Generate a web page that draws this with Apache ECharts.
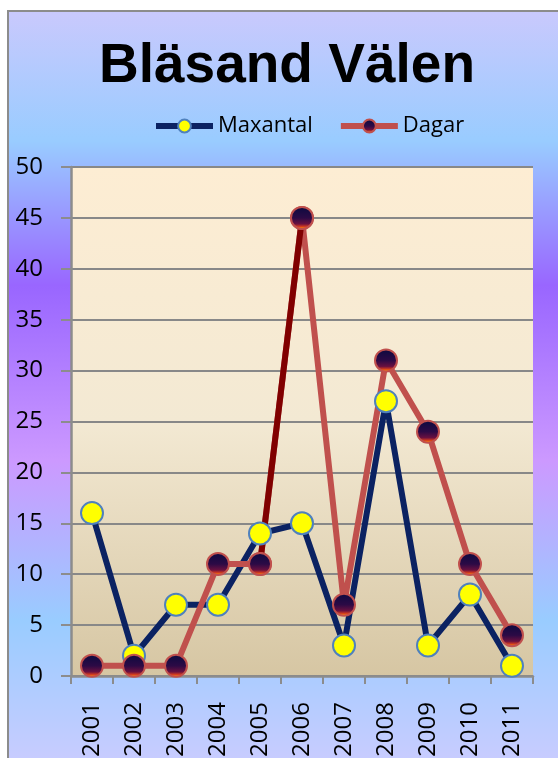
<!DOCTYPE html>
<html>
<head>
<meta charset="utf-8">
<script src="https://cdn.jsdelivr.net/npm/echarts@6/dist/echarts.min.js"></script>
<style>
  html, body { margin: 0; padding: 0; background: #fff; }
  #frame {
    position: absolute; left: 7px; top: 10px; width: 560px; height: 760px;
    border-left: 2px solid #8c8c8c; border-top: 2px solid #8c8c8c;
    background: linear-gradient(to bottom, #c9c9fd 0%, #99ccff 17%, #9966ff 36%, #cc99ff 59%, #99ccff 80%, #ccccff 100%);
  }
  #chart { position: absolute; left: 0; top: 0; width: 558px; height: 758px; }
</style>
</head>
<body>
<div id="frame"></div>
<div id="chart"></div>
<script>
// data
var years = ['2001', '2002', '2003', '2004', '2005', '2006', '2007', '2008', '2009', '2010', '2011'];
var maxantal = [16, 2, 7, 7, 14, 15, 3, 27, 3, 8, 1];
var dagar = [1, 1, 1, 11, 11, 45, 7, 31, 24, 11, 4];

// the 2005-2006 piece of Dagar is drawn darker
var dagarDark = dagar.map(function (v, i) { return (i === 4 || i === 5) ? v : '-'; });

var chart = echarts.init(document.getElementById('chart'));

var labelFont = '"Open Sans", sans-serif';

var dagarMarker = {
    color: new echarts.graphic.LinearGradient(0, 0, 0, 1, [
        {offset: 0, color: '#0a0a40'},
        {offset: 0.5, color: '#2c0a45'},
        {offset: 0.75, color: '#6a1040'},
        {offset: 0.86, color: '#d03a20'},
        {offset: 0.92, color: '#ff8000'},
        {offset: 1, color: '#c04a30'}
    ]),
    borderColor: '#c0504d',
    borderWidth: 2
};

var option = {
    animation: false,
    title: {
        text: 'Bläsand Välen',
        left: 282,
        textAlign: 'center',
        top: 34,
        textStyle: {
            fontFamily: '"Liberation Sans", Arial, sans-serif',
            fontWeight: 'bold',
            fontSize: 55,
            color: '#000'
        }
    },
    legend: {
        left: 148,
        top: 110,
        itemWidth: 57,
        itemHeight: 16,
        itemGap: 25,
        lineStyle: {width: 6},
        textStyle: {fontFamily: labelFont, fontSize: 22, color: '#000'},
        data: ['Maxantal', 'Dagar']
    },
    grid: {
        left: 71,
        top: 167,
        right: 25,
        bottom: 82,
        outerBoundsMode: 'none',
        show: true,
        borderWidth: 0,
        backgroundColor: new echarts.graphic.LinearGradient(0, 0, 0, 1, [
            {offset: 0, color: '#fdedd3'},
            {offset: 0.5, color: '#f3e9d3'},
            {offset: 1, color: '#d6c6a3'}
        ])
    },
    xAxis: {
        type: 'category',
        data: years,
        boundaryGap: true,
        axisLine: {lineStyle: {color: '#8c8c8c', width: 2.5}},
        axisTick: {show: true, length: 8, lineStyle: {color: '#8c8c8c', width: 2}},
        axisLabel: {
            rotate: 90,
            margin: 26,
            fontFamily: labelFont,
            fontSize: 24,
            color: '#000'
        },
        splitLine: {show: false}
    },
    yAxis: {
        type: 'value',
        min: 0,
        max: 50,
        interval: 5,
        axisLine: {show: true, lineStyle: {color: '#8c8c8c', width: 2.5}},
        axisTick: {show: true, length: 10, lineStyle: {color: '#8c8c8c', width: 2}},
        axisLabel: {
            margin: 28,
            fontFamily: labelFont,
            fontSize: 24,
            color: '#000'
        },
        splitLine: {lineStyle: {color: '#888888', width: 2}}
    },
    series: [
        {
            name: 'Maxantal',
            type: 'line',
            data: maxantal,
            symbol: 'circle',
            symbolSize: 22,
            lineStyle: {color: '#0b2262', width: 6},
            itemStyle: {color: '#ffff00', borderColor: '#4f81bd', borderWidth: 2}
        },
        {
            name: 'Dagar',
            type: 'line',
            data: dagar,
            symbol: 'circle',
            symbolSize: 22,
            lineStyle: {color: '#c0504d', width: 6},
            itemStyle: dagarMarker
        },
        {
            name: 'DagarDark',
            type: 'line',
            data: dagarDark,
            symbol: 'circle',
            symbolSize: 22,
            lineStyle: {color: '#800000', width: 6},
            itemStyle: dagarMarker
        }
    ]
};

chart.setOption(option);
</script>
</body>
</html>
